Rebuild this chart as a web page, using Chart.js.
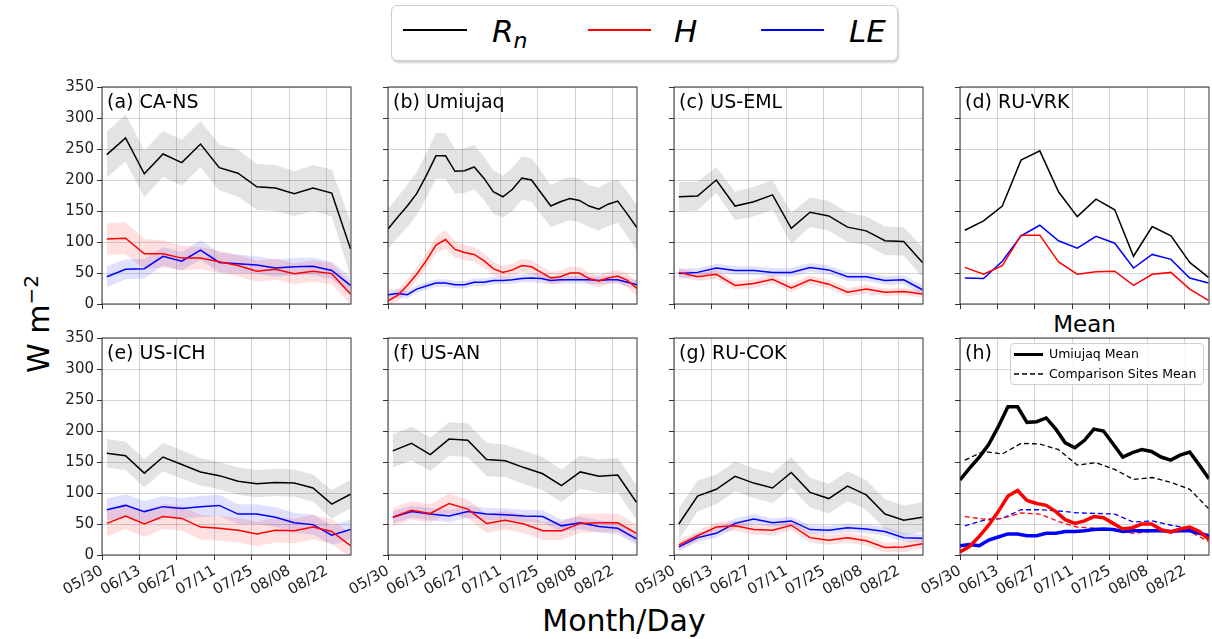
<!DOCTYPE html>
<html>
<head>
<meta charset="utf-8">
<script src="https://cdn.jsdelivr.net/npm/chart.js@4.4.1/dist/chart.umd.min.js"></script>
<style>
  body { margin: 0; width: 1212px; height: 639px; background: #fff; position: relative; overflow: hidden; font-family: 'DejaVu Sans', sans-serif; }
  canvas { position: absolute; }
  .abs { position: absolute; line-height: 1; white-space: nowrap; color: #000; }
</style>
</head>
<body>
<div class="abs" id="legend" style="left:391px;top:5px;width:505px;height:54px;border:1px solid #cfcfcf;border-radius:6px;box-shadow:1px 2px 2px rgba(0,0,0,0.18);background:#fff;">
  <div class="abs" style="left:11px;top:23px;width:64px;border-top:2px solid #000;"></div>
  <div class="abs" style="left:100px;top:10px;font-size:31px;font-style:italic;">R<span style="font-size:22px;position:relative;top:6px;">n</span></div>
  <div class="abs" style="left:196px;top:23px;width:63px;border-top:2px solid #ff0000;"></div>
  <div class="abs" style="left:282px;top:10px;font-size:31px;font-style:italic;">H</div>
  <div class="abs" style="left:369px;top:23px;width:63px;border-top:2px solid #0000ff;"></div>
  <div class="abs" style="left:457px;top:10px;font-size:31px;font-style:italic;">LE</div>
</div>

<div class="abs" style="left:960px;top:313px;width:249px;text-align:center;font-size:23px;">Mean</div>
<div class="abs" style="left:-65px;top:305px;width:200px;text-align:center;font-size:30px;line-height:30px;transform:rotate(-90deg);">W m<sup style="font-size:20px;">−2</sup></div>
<div class="abs" style="left:474px;top:606px;width:300px;text-align:center;font-size:30px;">Month/Day</div>

<div class="abs" id="hlegend" style="left:1010px;top:343px;width:192px;height:40px;border:1px solid #cfcfcf;border-radius:4px;background:rgba(255,255,255,0.85);z-index:5;">
  <div class="abs" style="left:3px;top:9px;width:29px;border-top:3px solid #000;"></div>
  <div class="abs" style="left:38px;top:4px;font-size:12.5px;">Umiujaq Mean</div>
  <svg class="abs" style="left:3px;top:28px;" width="30" height="4"><line x1="0" y1="2" x2="30" y2="2" stroke="#000" stroke-width="1.4" stroke-dasharray="5,3"/></svg>
  <div class="abs" style="left:38px;top:24px;font-size:12.5px;">Comparison Sites Mean</div>
</div>

<script>
// x axis: days after 05/30
const tickDays = [0, 14, 28, 42, 56, 70, 84];
const tickLabels = ['05/30', '06/13', '06/27', '07/11', '07/25', '08/08', '08/22'];
const weekDays = [1.8, 8.8, 15.8, 22.8, 29.8, 36.8, 43.8, 50.8, 57.8, 64.8, 71.8, 78.8, 85.8, 92.8];
const umiDays = [0, 3.6, 7.2, 10.7, 14.3, 17.9, 21.5, 25, 28.6, 32.2, 35.8, 39.3, 42.9, 46.5, 50, 53.6, 57.2, 60.8, 64.4, 67.9, 71.5, 75.1, 78.7, 82.2, 85.8, 89.4, 93];

// (a) CA-NS
const caNsRn = [241, 268, 210, 242, 228, 258, 220, 211, 189, 187, 178, 187, 179, 89];
const caNsRnSd = [37, 38, 38, 37, 37, 37, 37, 38, 37, 37, 36, 37, 38, 45];
const caNsH = [105, 106, 81, 81, 74, 74, 68, 62, 53, 56, 49, 53, 49, 16];
const caNsHSd = [25, 26, 24, 22, 20, 18, 18, 17, 17, 17, 17, 17, 17, 17];
const caNsLE = [44, 56, 57, 77, 69, 87, 67, 65, 63, 58, 60, 61, 54, 30];
const caNsLESd = [17, 16, 16, 15, 15, 16, 16, 15, 14, 14, 14, 14, 14, 14];

// (b) Umiujaq
const umiRn = [121, 140, 158, 178, 207, 239, 239, 214, 215, 221, 203, 181, 173, 185, 203, 200, 179, 158, 165, 170, 167, 158, 153, 161, 166, 145, 123];
const umiRnSd = [32, 33, 34, 35, 36, 37, 37, 36, 36, 36, 35, 35, 34, 35, 35, 35, 35, 34, 35, 35, 35, 34, 35, 35, 35, 36, 37];
const umiH = [5, 14, 30, 48, 70, 95, 104, 88, 83, 80, 70, 57, 51, 55, 62, 60, 51, 42, 44, 50, 50, 41, 37, 42, 45, 38, 25];
const umiHSd = [8, 9, 10, 11, 12, 14, 15, 13, 12, 12, 12, 11, 10, 10, 11, 11, 10, 10, 10, 10, 10, 10, 10, 10, 10, 11, 12];
const umiLE = [15, 17, 15, 24, 29, 34, 34, 31, 31, 35, 35, 38, 38, 39, 41, 42, 41, 38, 39, 39, 39, 39, 38, 39, 39, 35, 31];
const umiLESd = [7, 7, 6, 6, 6, 6, 6, 6, 6, 6, 6, 6, 6, 6, 6, 7, 7, 6, 6, 6, 6, 6, 6, 6, 6, 7, 7];

// (c) US-EML
const usEmlRn = [173, 174, 200, 158, 165, 176, 122, 148, 142, 124, 118, 102, 101, 67];
const usEmlRnSd = [24, 23, 21, 23, 24, 24, 25, 24, 24, 24, 23, 23, 23, 24];
const usEmlH = [51, 44, 48, 30, 33, 40, 26, 39, 32, 19, 24, 19, 20, 16];
const usEmlHSd = [7, 7, 7, 7, 7, 7, 7, 7, 7, 7, 7, 6, 6, 6];
const usEmlLE = [49, 51, 58, 54, 54, 51, 51, 59, 55, 44, 44, 38, 39, 23];
const usEmlLESd = [8, 7, 7, 7, 7, 7, 7, 7, 7, 7, 7, 7, 7, 8];

// (d) RU-VRK
const ruVrkRn = [119, 134, 158, 232, 247, 181, 141, 169, 152, 77, 125, 110, 67, 43];
const ruVrkH = [59, 48, 62, 111, 111, 68, 48, 52, 53, 30, 48, 51, 24, 6];
const ruVrkLE = [42, 41, 69, 110, 127, 102, 90, 109, 98, 58, 80, 72, 42, 34];

// (e) US-ICH
const usIchRn = [164, 160, 132, 158, 146, 134, 128, 119, 115, 117, 116, 108, 82, 98];
const usIchRnSd = [23, 23, 23, 23, 23, 22, 22, 22, 22, 22, 22, 22, 23, 23];
const usIchH = [51, 63, 50, 62, 59, 45, 43, 40, 34, 40, 39, 45, 38, 15];
const usIchHSd = [21, 21, 21, 20, 20, 20, 20, 20, 20, 20, 20, 20, 20, 20];
const usIchLE = [73, 80, 70, 78, 75, 78, 80, 66, 66, 61, 52, 49, 32, 41];
const usIchLESd = [18, 18, 17, 17, 17, 17, 17, 16, 16, 16, 16, 16, 16, 16];

// (f) US-AN
const usAnRn = [168, 180, 162, 187, 185, 154, 152, 141, 131, 112, 134, 127, 129, 85];
const usAnRnSd = [27, 27, 27, 27, 27, 27, 26, 27, 27, 26, 27, 27, 28, 28];
const usAnH = [61, 72, 67, 83, 74, 51, 56, 50, 39, 39, 51, 52, 52, 35];
const usAnHSd = [15, 15, 15, 16, 15, 15, 15, 15, 15, 15, 15, 15, 15, 15];
const usAnLE = [61, 70, 66, 63, 70, 66, 65, 63, 62, 47, 52, 46, 43, 26];
const usAnLESd = [10, 10, 10, 10, 10, 10, 10, 10, 10, 10, 10, 10, 10, 10];

// (g) RU-COK
const ruCokRn = [50, 95, 106, 127, 116, 108, 133, 101, 91, 111, 97, 66, 56, 61];
const ruCokRnSd = [25, 25, 24, 24, 24, 24, 25, 24, 24, 24, 24, 24, 24, 24];
const ruCokH = [16, 31, 45, 47, 41, 40, 48, 28, 24, 28, 23, 12, 13, 18];
const ruCokHSd = [8, 8, 8, 8, 8, 8, 8, 8, 8, 8, 8, 8, 8, 8];
const ruCokLE = [13, 28, 35, 51, 58, 52, 55, 41, 40, 44, 42, 38, 28, 27];
const ruCokLESd = [7, 7, 7, 8, 8, 7, 7, 7, 7, 7, 7, 7, 7, 7];

// (h) comparison sites mean
const compRn = [153, 167, 163, 180, 179, 170, 145, 149, 138, 122, 125, 117, 106, 75];
const compH = [62, 58, 59, 68, 66, 54, 45, 43, 40, 35, 38, 39, 38, 22];
const compLE = [47, 56, 59, 73, 73, 71, 68, 67, 66, 53, 55, 48, 43, 30];

const BLACK = '#000000', RED = '#ff0000', BLUE = '#0000ff';
const gridColor = 'rgba(0,0,0,0.17)';

function pts(days, vals, sd, sign) {
  return days.map((d, i) => ({ x: d, y: sd ? vals[i] + sign * sd[i] : vals[i] }));
}
function line(days, vals, color, width, dash) {
  return { data: pts(days, vals), borderColor: color, borderWidth: width || 1.5, borderDash: dash || [], fill: false };
}
function band(days, vals, sd, fillColor) {
  return [
    { data: pts(days, vals, sd, 1), borderWidth: 0, borderColor: 'transparent', backgroundColor: fillColor, fill: '+1' },
    { data: pts(days, vals, sd, -1), borderWidth: 0, borderColor: 'transparent', fill: false }
  ];
}
function site(days, rn, rnSd, h, hSd, le, leSd) {
  const sets = [line(days, rn, BLACK), line(days, h, RED), line(days, le, BLUE)];
  if (rnSd) {
    sets.push(...band(days, rn, rnSd, 'rgba(0,0,0,0.11)'));
    sets.push(...band(days, h, hSd, 'rgba(255,0,0,0.12)'));
    sets.push(...band(days, le, leSd, 'rgba(0,0,255,0.12)'));
  }
  return sets;
}

const panels = [
  { label: '(a) CA-NS', col: 0, row: 0, sets: site(weekDays, caNsRn, caNsRnSd, caNsH, caNsHSd, caNsLE, caNsLESd) },
  { label: '(b) Umiujaq', col: 1, row: 0, sets: site(umiDays, umiRn, umiRnSd, umiH, umiHSd, umiLE, umiLESd) },
  { label: '(c) US-EML', col: 2, row: 0, sets: site(weekDays, usEmlRn, usEmlRnSd, usEmlH, usEmlHSd, usEmlLE, usEmlLESd) },
  { label: '(d) RU-VRK', col: 3, row: 0, sets: site(weekDays, ruVrkRn, null, ruVrkH, null, ruVrkLE, null) },
  { label: '(e) US-ICH', col: 0, row: 1, sets: site(weekDays, usIchRn, usIchRnSd, usIchH, usIchHSd, usIchLE, usIchLESd) },
  { label: '(f) US-AN', col: 1, row: 1, sets: site(weekDays, usAnRn, usAnRnSd, usAnH, usAnHSd, usAnLE, usAnLESd) },
  { label: '(g) RU-COK', col: 2, row: 1, sets: site(weekDays, ruCokRn, ruCokRnSd, ruCokH, ruCokHSd, ruCokLE, ruCokLESd) },
  { label: '(h)', col: 3, row: 1, sets: [
    line(umiDays, umiRn, BLACK, 3.5), line(umiDays, umiH, RED, 3.5), line(umiDays, umiLE, BLUE, 3.5),
    line(weekDays, compRn, BLACK, 1.3, [5, 3]), line(weekDays, compH, RED, 1.3, [5, 3]), line(weekDays, compLE, BLUE, 1.3, [5, 3])
  ] }
];

// plot-area placement
const colLeft = [102, 388, 674, 960];
const rowTop = [87, 338];
const plotW = 249, plotH = 217, axW = 70, axH = 70, padT = 10, padR = 10;

// frame (all four spines) and panel label
const framePlugin = {
  id: 'frame',
  afterDraw(chart, args, opts) {
    const { ctx, chartArea: a } = chart;
    ctx.save();
    ctx.strokeStyle = '#333';
    ctx.lineWidth = 1;
    ctx.strokeRect(a.left, a.top, a.right - a.left, a.bottom - a.top);
    ctx.fillStyle = '#000';
    ctx.font = "19px 'DejaVu Sans'";
    ctx.textBaseline = 'alphabetic';
    ctx.fillText(opts.label, a.left + 5, a.top + 21);
    ctx.restore();
  }
};

Chart.defaults.font.family = "'DejaVu Sans', sans-serif";
Chart.defaults.color = '#222';

panels.forEach(p => {
  const cv = document.createElement('canvas');
  const w = axW + plotW + padR, h = padT + plotH + axH;
  cv.width = w; cv.height = h;
  cv.style.width = w + 'px'; cv.style.height = h + 'px';
  cv.style.left = (colLeft[p.col] - axW) + 'px';
  cv.style.top = (rowTop[p.row] - padT) + 'px';
  document.body.appendChild(cv);

  new Chart(cv.getContext('2d'), {
    type: 'line',
    data: { datasets: p.sets },
    options: {
      responsive: false,
      animation: false,
      layout: { padding: { left: 0, top: padT, right: padR, bottom: 0 } },
      elements: { point: { radius: 0 }, line: { tension: 0 } },
      plugins: { legend: { display: false }, tooltip: { enabled: false }, frame: { label: p.label } },
      scales: {
        x: {
          type: 'linear', min: 0, max: 93,
          afterBuildTicks: s => { s.ticks = tickDays.map(v => ({ value: v })); },
          afterFit: s => { s.height = axH; s.paddingLeft = 0; s.paddingRight = 0; },
          grid: { color: gridColor, tickColor: '#333', tickLength: 5 },
          border: { display: false },
          ticks: {
            autoSkip: false, minRotation: 30, maxRotation: 30, padding: 2,
            font: { size: 15 }, color: '#222',
            callback: v => p.row === 1 ? tickLabels[tickDays.indexOf(v)] : ''
          }
        },
        y: {
          min: 0, max: 350,
          afterFit: s => { s.width = axW; s.paddingTop = 0; s.paddingBottom = 0; },
          grid: { color: gridColor, tickColor: '#333', tickLength: 5 },
          border: { display: false },
          ticks: {
            stepSize: 50, padding: 3, font: { size: 15 }, color: '#222',
            callback: v => p.col === 0 ? v : ''
          }
        }
      }
    },
    plugins: [framePlugin]
  });
});
</script>
</body>
</html>
